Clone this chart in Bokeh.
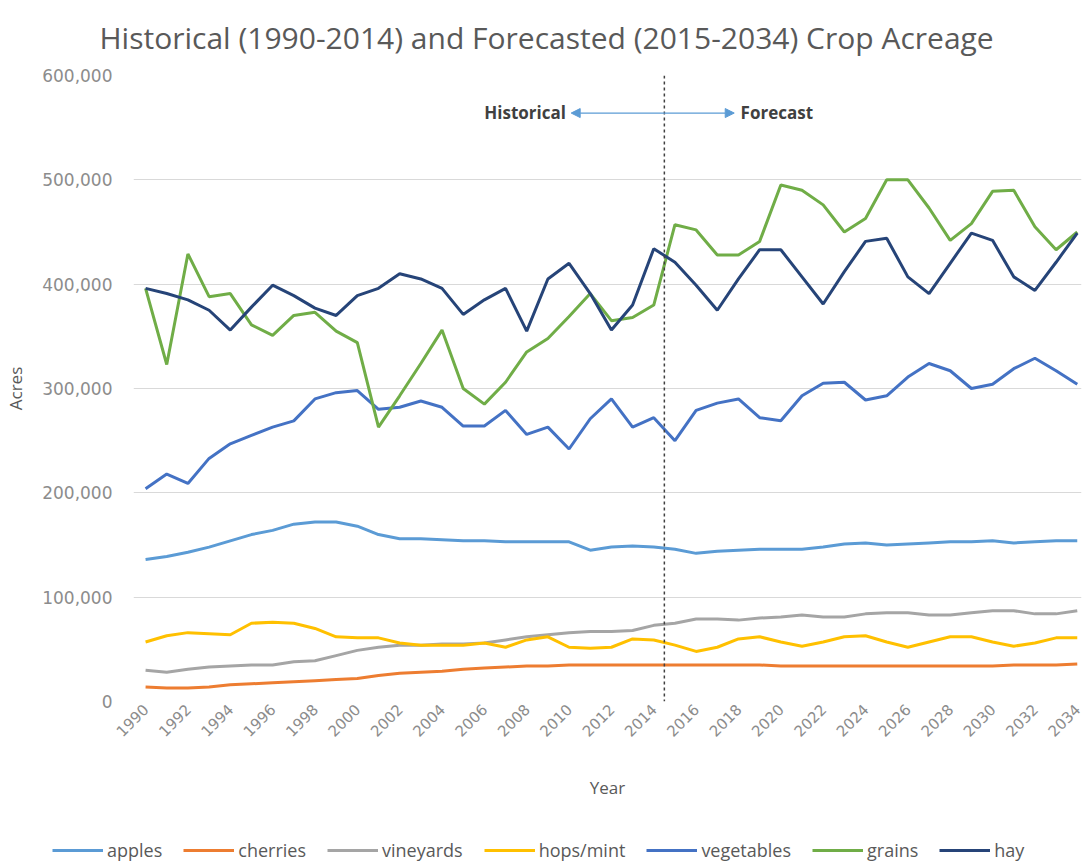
from bokeh.plotting import figure
from bokeh.layouts import column
from bokeh.models import (Range1d, FixedTicker, NumeralTickFormatter, Label, Span,
                          Arrow, NormalHead, Legend, LegendItem)
from bokeh.embed import file_html
from bokeh.resources import INLINE
import math

years = list(range(1990, 2035))
x_ticks = list(range(1990, 2035, 2))
y_ticks = [0, 100000, 200000, 300000, 400000, 500000, 600000]

series_names = ["apples", "cherries", "vineyards", "hops/mint", "vegetables", "grains", "hay"]
series_colors = ["#5B9BD5", "#ED7D31", "#A5A5A5", "#FFC000", "#4472C4", "#70AD47", "#264478"]

apples = [136, 139, 143, 148, 154, 160, 164, 170, 172, 172,
          168, 160, 156, 156, 155, 154, 154, 153, 153, 153,
          153, 145, 148, 149, 148, 146, 142, 144, 145, 146,
          146, 146, 148, 151, 152, 150, 151, 152, 153, 153,
          154, 152, 153, 154, 154]
cherries = [14, 13, 13, 14, 16, 17, 18, 19, 20, 21,
            22, 25, 27, 28, 29, 31, 32, 33, 34, 34,
            35, 35, 35, 35, 35, 35, 35, 35, 35, 35,
            34, 34, 34, 34, 34, 34, 34, 34, 34, 34,
            34, 35, 35, 35, 36]
vineyards = [30, 28, 31, 33, 34, 35, 35, 38, 39, 44,
             49, 52, 54, 54, 55, 55, 56, 59, 62, 64,
             66, 67, 67, 68, 73, 75, 79, 79, 78, 80,
             81, 83, 81, 81, 84, 85, 85, 83, 83, 85,
             87, 87, 84, 84, 87]
hops_mint = [57, 63, 66, 65, 64, 75, 76, 75, 70, 62,
             61, 61, 56, 54, 54, 54, 56, 52, 59, 62,
             52, 51, 52, 60, 59, 54, 48, 52, 60, 62,
             57, 53, 57, 62, 63, 57, 52, 57, 62, 62,
             57, 53, 56, 61, 61]
vegetables = [204, 218, 209, 233, 247, 255, 263, 269, 290, 296,
              298, 280, 282, 288, 282, 264, 264, 279, 256, 263,
              242, 271, 290, 263, 272, 250, 279, 286, 290, 272,
              269, 293, 305, 306, 289, 293, 311, 324, 317, 300,
              304, 319, 329, 317, 304]
grains = [396, 323, 429, 388, 391, 361, 351, 370, 373, 355,
          344, 263, 293, 324, 356, 300, 285, 306, 335, 348,
          369, 391, 365, 368, 380, 457, 452, 428, 428, 441,
          495, 490, 476, 450, 463, 500, 500, 473, 442, 458,
          489, 490, 455, 433, 450]
hay = [396, 391, 385, 375, 356, 378, 399, 389, 377, 370,
       389, 396, 410, 405, 396, 371, 385, 396, 355, 405,
       420, 391, 356, 380, 434, 421, 399, 375, 405, 433,
       433, 407, 381, 412, 441, 444, 407, 391, 420, 449,
       442, 407, 394, 421, 449]

series_values = [apples, cherries, vineyards, hops_mint, vegetables, grains, hay]

title_text = "Historical (1990-2014) and Forecasted (2015-2034) Crop Acreage"
x_title = "Year"
y_title = "Acres"
hist_text = "Historical"
fc_text = "Forecast"
split_year = 2014.5

# ---------------- main chart ----------------
p = figure(width=1085, height=820, output_backend="svg", toolbar_location=None,
           x_range=Range1d(1989.43, 2034.2), y_range=Range1d(0, 600000),
           min_border_left=133, min_border_right=4, min_border_top=75,
           min_border_bottom=119)
p.outline_line_color = None
p.background_fill_color = "white"
p.border_fill_color = "white"

p.title.text = title_text
p.title.align = "left"
p.title.offset = -34
p.title.vertical_align = "top"
p.title.text_font = "Open Sans"
p.title.text_font_style = "normal"
p.title.text_font_size = "30px"
p.title.text_color = "#595959"
p.title.standoff = 32

p.xgrid.grid_line_color = None
p.ygrid.grid_line_color = "#d9d9d9"
p.ygrid.grid_line_width = 1

p.yaxis.ticker = FixedTicker(ticks=y_ticks)
p.yaxis.formatter = NumeralTickFormatter(format="0,0")
p.yaxis.axis_line_color = None
p.yaxis.major_tick_line_color = None
p.yaxis.minor_tick_line_color = None
p.yaxis.major_tick_out = 0
p.yaxis.major_tick_in = 0
p.yaxis.major_label_standoff = 21
p.yaxis.major_label_text_font = "DejaVu Sans"
p.yaxis.major_label_text_font_size = "17px"
p.yaxis.major_label_text_color = "#8c8c8c"
p.yaxis.axis_label = y_title
p.yaxis.axis_label_standoff = 12
p.yaxis.axis_label_text_font = "Open Sans"
p.yaxis.axis_label_text_font_style = "normal"
p.yaxis.axis_label_text_font_size = "17px"
p.yaxis.axis_label_text_color = "#595959"

p.xaxis.ticker = FixedTicker(ticks=x_ticks)
p.xaxis.axis_line_color = None
p.xaxis.major_tick_line_color = None
p.xaxis.minor_tick_line_color = None
p.xaxis.major_tick_out = 0
p.xaxis.major_tick_in = 0
p.xaxis.major_label_orientation = math.pi / 4
p.xaxis.major_label_standoff = 5
p.xaxis.major_label_text_font = "DejaVu Sans"
p.xaxis.major_label_text_font_size = "15px"
p.xaxis.major_label_text_color = "#8c8c8c"
p.xaxis.axis_label = x_title
p.xaxis.axis_label_standoff = 31
p.xaxis.axis_label_text_font = "Open Sans"
p.xaxis.axis_label_text_font_style = "normal"
p.xaxis.axis_label_text_font_size = "17px"
p.xaxis.axis_label_text_color = "#595959"

for name, color, vals in zip(series_names, series_colors, series_values):
    p.line(years, [v * 1000 for v in vals], line_color=color, line_width=3)

p.add_layout(Span(location=split_year, dimension="height", line_color="#404040",
                  line_width=1.5, line_dash="3 3"))

p.add_layout(Arrow(start=NormalHead(size=9, fill_color="#5B9BD5", line_color="#5B9BD5"),
                   end=NormalHead(size=9, fill_color="#5B9BD5", line_color="#5B9BD5"),
                   x_start=2010.1, x_end=2017.8, y_start=564000, y_end=564000,
                   line_color="#5B9BD5", line_width=1.2))
p.add_layout(Label(x=2009.85, y=564500, text=hist_text, text_align="right",
                   text_baseline="middle", text_font="Open Sans", text_font_style="bold",
                   text_font_size="17px", text_color="#404040"))
p.add_layout(Label(x=2018.1, y=564500, text=fc_text, text_align="left",
                   text_baseline="middle", text_font="Open Sans", text_font_style="bold",
                   text_font_size="17px", text_color="#404040"))

# ---------------- legend strip ----------------
lg = figure(width=1085, height=42, output_backend="svg", toolbar_location=None,
            x_range=Range1d(0, 1), y_range=Range1d(0, 1),
            x_axis_type=None, y_axis_type=None,
            min_border_left=0, min_border_right=0, min_border_top=0, min_border_bottom=0)
lg.outline_line_color = None
lg.grid.visible = False
lg.background_fill_color = "white"
lg.border_fill_color = "white"

aligned_off = False
for fig in (p, lg):
    if "frame_align" in fig.properties():
        fig.frame_align = False
        aligned_off = True

items = []
for name, color, vals in zip(series_names, series_colors, series_values):
    # same data as the chart; it lies outside this strip's ranges, so only the legend swatch shows
    r = lg.line(years, [v * 1000 for v in vals], line_color=color, line_width=3)
    items.append(LegendItem(label=name, renderers=[r]))

legend_x = 52 if aligned_off else -81
legend = Legend(items=items, orientation="horizontal", location=(legend_x, 0),
                glyph_width=51, glyph_height=22, label_height=22, label_standoff=4,
                spacing=21, padding=0, margin=0, border_line_color=None,
                background_fill_alpha=0, label_text_font="Open Sans",
                label_text_font_size="18px", label_text_color="#595959")
lg.add_layout(legend)

layout = column(p, lg, spacing=0)
open("out.html", "w").write(file_html(layout, INLINE))
